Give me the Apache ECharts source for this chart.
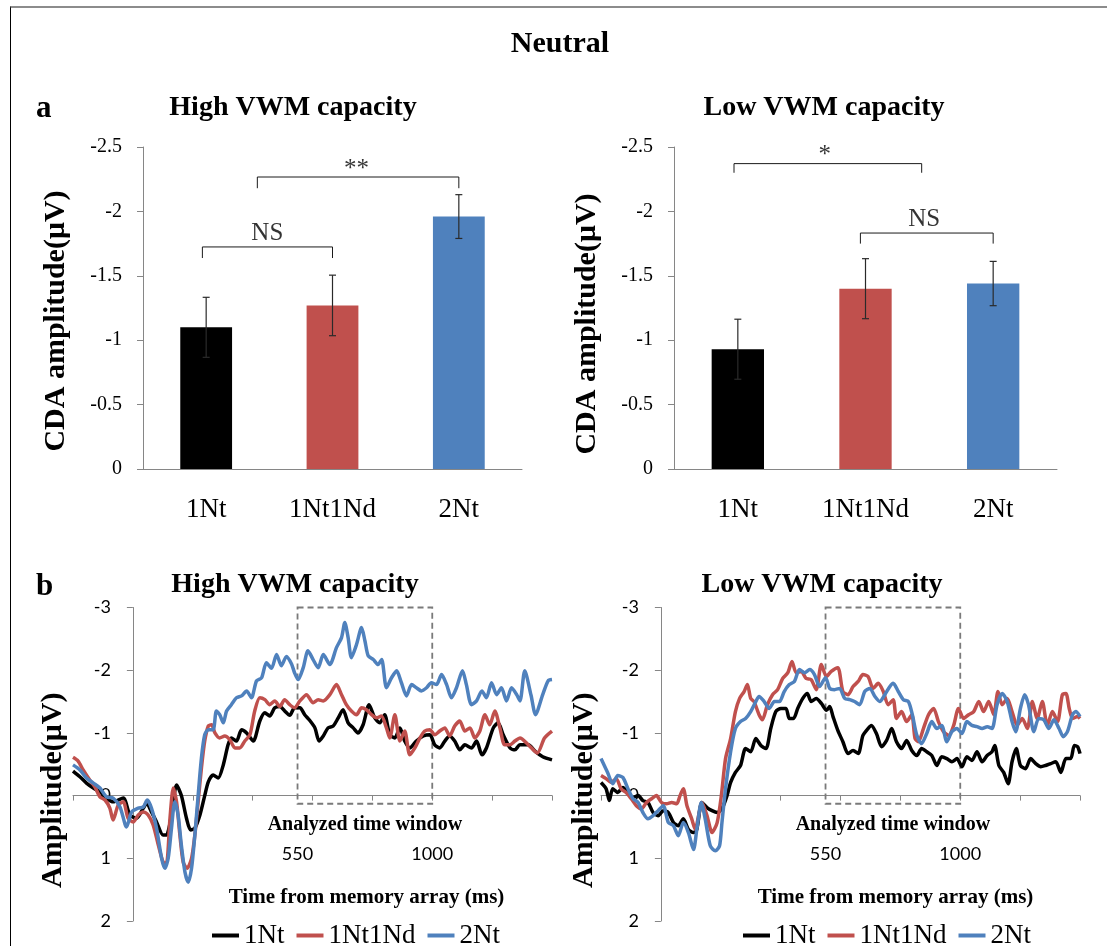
<!DOCTYPE html>
<html><head><meta charset="utf-8">
<script src="https://cdn.jsdelivr.net/npm/echarts@6/dist/echarts.min.js"></script>
<style>
html,body{margin:0;padding:0;background:#fff;}
#frame{position:absolute;left:10px;top:6px;width:1097px;height:940px;border-left:1.5px solid #000;border-top:2px solid #8c8c8c;box-sizing:border-box;}
#chart{position:absolute;left:0;top:0;width:1107px;height:946px;}
</style></head><body>
<div id="frame"></div>
<div id="chart"></div>
<script>
// ---------- data ----------
const categories = ['1Nt', '1Nt1Nd', '2Nt'];
const barColors = ['#000000', '#C0504D', '#4F81BD'];
const highMeans = [-1.10, -1.27, -1.96];
const highErrors = [0.233, 0.235, 0.17];
const lowMeans = [-0.93, -1.40, -1.44];
const lowErrors = [0.233, 0.233, 0.172];
// brackets: [xStart, xEnd, yBar, yEnd]
const highBrackets = [[-0.03, 1.0, -1.724, -1.638], [0.405, 2.0, -2.267, -2.18]];
const highSigText = [['NS', 0.484, -1.724], ['**', 1.19, -2.267]];
const lowBrackets = [[-0.03, 1.44, -2.371, -2.30], [0.96, 2.0, -1.832, -1.75]];
const lowSigText = [['*', 0.68, -2.371], ['NS', 1.46, -1.832]];
const timeRange = [-200, 1400];
const ampRange = [-3, 2];
const timeWindow = [550, 1000];
const timeLabels = [550, 1000];

const high1Nt = [[-200,-0.39],[-177,-0.30],[-155,-0.20],[-132,-0.12],[-110,-0.06],[-88,0.04],[-66,0.10],[-32,0.04],[-10,0.31],[12,0.36],[35,0.20],[46,0.12],[62,0.26],[79,0.42],[101,0.63],[112,0.63],[129,0.31],[146,-0.17],[162,0.0],[179,0.36],[193,0.55],[207,0.52],[224,0.31],[240,0.0],[252,-0.22],[268,-0.33],[285,-0.28],[302,-0.49],[318,-0.81],[329,-0.92],[346,-0.87],[363,-1.05],[380,-1.0],[402,-0.87],[424,-1.19],[441,-1.32],[457,-1.27],[474,-1.40],[491,-1.42],[507,-1.35],[524,-1.28],[540,-1.40],[558,-1.40],[574,-1.29],[589,-1.21],[608,-1.08],[622,-0.87],[636,-0.95],[652,-1.08],[669,-1.11],[686,-1.24],[702,-1.37],[719,-1.16],[736,-1.08],[752,-1.0],[769,-1.13],[789,-1.45],[808,-1.24],[825,-1.16],[841,-1.29],[858,-0.97],[875,-0.92],[892,-1.08],[908,-0.87],[925,-0.76],[947,-0.87],[970,-0.95],[992,-0.97],[1008,-0.81],[1025,-0.76],[1042,-0.87],[1058,-0.95],[1075,-0.87],[1092,-0.73],[1109,-0.81],[1131,-0.76],[1148,-0.87],[1166,-0.65],[1181,-0.76],[1204,-1.08],[1220,-1.16],[1237,-0.97],[1260,-0.76],[1276,-0.73],[1293,-0.81],[1321,-0.81],[1345,-0.70],[1369,-0.62],[1400,-0.57]];
const high1Nt1Nd = [[-200,-0.61],[-183,-0.55],[-166,-0.41],[-144,-0.25],[-127,-0.14],[-110,0.02],[-93,0.07],[-77,0.20],[-66,0.39],[-49,0.15],[-32,0.10],[-16,0.36],[1,0.42],[18,0.31],[35,0.26],[51,0.31],[68,0.47],[85,0.79],[101,1.06],[112,1.08],[124,0.36],[135,-0.12],[146,0.10],[157,0.63],[168,1.06],[181,1.16],[196,1.0],[207,0.63],[218,0.10],[229,-0.44],[240,-0.87],[252,-1.11],[263,-1.13],[274,-1.0],[290,-0.92],[307,-0.95],[324,-0.89],[341,-0.76],[357,-0.76],[374,-0.87],[391,-0.97],[407,-1.35],[424,-1.56],[441,-1.53],[457,-1.45],[474,-1.51],[491,-1.42],[507,-1.53],[524,-1.45],[540,-1.40],[558,-1.51],[580,-1.61],[602,-1.48],[619,-1.53],[636,-1.51],[658,-1.61],[680,-1.77],[697,-1.61],[713,-1.45],[730,-1.35],[747,-1.29],[764,-1.40],[780,-1.37],[797,-1.29],[814,-1.24],[830,-1.27],[847,-1.08],[858,-0.92],[875,-1.29],[892,-0.87],[908,-1.03],[925,-0.65],[942,-0.76],[959,-0.92],[975,-1.03],[992,-1.05],[1008,-0.97],[1025,-1.03],[1042,-1.08],[1058,-0.95],[1075,-1.11],[1092,-1.19],[1109,-1.03],[1126,-1.08],[1142,-0.92],[1159,-1.03],[1176,-1.29],[1192,-1.13],[1209,-1.35],[1226,-1.08],[1242,-0.81],[1259,-0.81],[1276,-0.87],[1293,-0.92],[1321,-0.81],[1351,-0.68],[1375,-0.92],[1400,-1.03]];
const high2Nt = [[-200,-0.49],[-177,-0.41],[-155,-0.28],[-132,-0.20],[-110,-0.12],[-88,0.02],[-66,0.04],[-43,0.18],[-21,0.50],[-4,0.26],[18,0.20],[35,0.18],[48,0.07],[62,0.20],[79,0.52],[96,1.0],[107,1.16],[118,1.0],[129,0.52],[140,0.10],[151,0.31],[162,0.79],[174,1.22],[185,1.38],[196,1.16],[207,0.63],[218,0.0],[229,-0.60],[240,-0.97],[252,-1.05],[268,-1.05],[279,-1.35],[290,-1.29],[302,-1.16],[313,-1.35],[329,-1.45],[346,-1.56],[363,-1.59],[380,-1.67],[396,-1.56],[413,-1.83],[430,-1.88],[446,-2.12],[463,-2.03],[480,-2.25],[496,-2.07],[513,-2.22],[530,-2.10],[540,-1.96],[552,-1.85],[569,-2.04],[585,-2.31],[602,-2.17],[619,-2.04],[636,-2.25],[658,-2.09],[680,-2.36],[697,-2.52],[708,-2.76],[719,-2.52],[730,-2.20],[747,-2.41],[764,-2.68],[775,-2.47],[786,-2.23],[803,-2.17],[819,-2.09],[831,-2.17],[847,-1.72],[864,-1.88],[881,-1.99],[897,-1.80],[914,-1.59],[931,-1.77],[947,-1.72],[964,-1.67],[981,-1.72],[997,-1.80],[1014,-1.77],[1031,-1.93],[1048,-1.77],[1064,-1.56],[1081,-1.72],[1101,-1.99],[1114,-1.77],[1131,-1.45],[1148,-1.51],[1166,-1.67],[1181,-1.56],[1198,-1.80],[1215,-1.61],[1231,-1.72],[1248,-1.51],[1265,-1.72],[1282,-1.61],[1293,-1.51],[1309,-1.99],[1330,-1.60],[1345,-1.29],[1369,-1.61],[1387,-1.83],[1400,-1.85]];

const low1Nt = [[-200,-0.21],[-183,-0.11],[-172,0.08],[-161,-0.11],[-144,-0.05],[-127,-0.13],[-110,-0.05],[-93,0.03],[-76,0.0],[-60,0.08],[-43,0.11],[-26,0.27],[-9,0.32],[8,0.24],[25,0.27],[42,0.43],[58,0.48],[75,0.37],[92,0.54],[109,0.59],[120,0.54],[137,0.11],[154,0.19],[171,0.24],[188,0.27],[204,0.21],[221,0.0],[233,-0.21],[249,-0.37],[266,-0.48],[283,-0.75],[300,-0.70],[317,-0.91],[334,-0.80],[351,-0.75],[367,-1.07],[384,-1.34],[401,-1.39],[418,-1.39],[429,-1.23],[443,-1.23],[457,-1.39],[474,-1.55],[489,-1.63],[502,-1.50],[519,-1.55],[536,-1.47],[553,-1.36],[564,-1.42],[575,-1.26],[591,-1.04],[608,-0.86],[625,-0.67],[642,-0.72],[659,-0.67],[675,-0.96],[692,-1.07],[703,-1.12],[720,-0.99],[737,-0.78],[754,-0.88],[771,-1.07],[787,-0.86],[804,-0.75],[821,-0.88],[838,-0.72],[855,-0.64],[871,-0.75],[888,-0.70],[905,-0.64],[922,-0.48],[938,-0.62],[955,-0.59],[972,-0.54],[989,-0.59],[1006,-0.46],[1022,-0.62],[1039,-0.56],[1056,-0.70],[1073,-0.54],[1090,-0.64],[1106,-0.70],[1115,-0.80],[1129,-0.48],[1145,-0.37],[1160,-0.19],[1173,-0.54],[1187,-0.75],[1201,-0.48],[1218,-0.43],[1235,-0.59],[1252,-0.51],[1269,-0.46],[1285,-0.48],[1302,-0.51],[1319,-0.54],[1336,-0.37],[1353,-0.59],[1369,-0.59],[1381,-0.80],[1392,-0.78],[1400,-0.67]];
const low1Nt1Nd = [[-200,-0.32],[-183,-0.27],[-166,-0.21],[-149,-0.27],[-133,-0.11],[-116,-0.05],[-99,0.05],[-82,0.16],[-65,0.21],[-48,0.11],[-31,0.05],[-15,0.0],[2,0.11],[19,0.13],[36,0.11],[53,0.13],[64,0.0],[75,-0.11],[87,0.16],[103,0.37],[115,0.54],[126,0.32],[137,0.11],[154,0.32],[171,0.59],[188,0.43],[202,0.0],[216,-0.59],[233,-0.91],[249,-1.34],[263,-1.55],[278,-1.66],[289,-1.77],[300,-1.55],[311,-1.50],[328,-1.29],[339,-1.21],[356,-1.45],[373,-1.61],[390,-1.69],[407,-1.87],[424,-1.96],[438,-2.14],[452,-1.96],[469,-1.98],[485,-1.87],[502,-1.85],[519,-1.69],[536,-2.09],[553,-1.90],[569,-1.98],[591,-2.04],[608,-1.66],[625,-1.61],[642,-1.74],[659,-1.82],[675,-1.93],[692,-1.90],[709,-1.71],[726,-1.79],[743,-1.66],[759,-1.45],[776,-1.53],[787,-1.23],[804,-1.34],[821,-1.18],[838,-1.29],[849,-0.91],[860,-0.86],[877,-1.07],[894,-1.29],[911,-1.39],[927,-1.18],[944,-1.02],[961,-0.96],[978,-1.12],[994,-1.39],[1011,-1.23],[1028,-1.29],[1045,-1.34],[1062,-1.50],[1078,-1.34],[1095,-1.50],[1112,-1.29],[1126,-1.66],[1140,-1.45],[1157,-1.55],[1173,-1.34],[1190,-1.12],[1207,-1.23],[1224,-1.07],[1241,-1.50],[1257,-1.23],[1274,-1.50],[1291,-1.12],[1308,-1.34],[1325,-1.18],[1341,-1.61],[1353,-1.63],[1364,-1.39],[1375,-1.23],[1392,-1.26],[1400,-1.23]];
const low2Nt = [[-200,-0.59],[-189,-0.48],[-178,-0.37],[-161,-0.19],[-144,-0.32],[-127,-0.29],[-110,-0.11],[-93,0.05],[-76,0.11],[-60,0.27],[-43,0.37],[-26,0.32],[-9,0.24],[8,0.16],[25,0.43],[42,0.48],[58,0.64],[75,0.43],[92,0.59],[109,0.86],[120,0.54],[135,0.11],[148,0.37],[165,0.80],[182,0.88],[196,0.80],[204,0.43],[216,-0.11],[233,-0.70],[249,-1.07],[266,-1.18],[283,-1.23],[300,-1.34],[317,-1.50],[328,-1.58],[345,-1.50],[362,-1.39],[379,-1.50],[396,-1.50],[412,-1.66],[429,-1.77],[446,-1.82],[463,-2.01],[480,-1.96],[497,-2.01],[513,-1.93],[530,-1.74],[550,-1.88],[564,-1.71],[580,-1.69],[597,-1.71],[614,-1.55],[631,-1.53],[647,-1.50],[664,-1.45],[681,-1.66],[698,-1.71],[715,-1.58],[731,-1.50],[748,-1.61],[765,-1.74],[776,-1.79],[793,-1.66],[810,-1.53],[827,-1.50],[840,-1.29],[855,-0.96],[871,-0.83],[888,-0.99],[905,-1.18],[922,-1.07],[938,-1.12],[955,-0.86],[972,-1.02],[989,-1.07],[1006,-0.99],[1022,-1.18],[1039,-1.12],[1056,-1.10],[1073,-1.07],[1090,-1.10],[1106,-1.07],[1123,-1.45],[1140,-1.63],[1157,-1.50],[1173,-1.18],[1185,-1.02],[1201,-1.39],[1215,-1.61],[1228,-1.45],[1246,-1.02],[1262,-1.23],[1279,-1.21],[1296,-1.07],[1313,-1.21],[1330,-1.07],[1344,-0.94],[1358,-1.02],[1375,-1.29],[1386,-1.34],[1400,-1.26]];

// ---------- layout / style ----------
const SERIF = 'Liberation Serif';
const SANS = 'Lato';
const AXIS_GRAY = '#868686';
const LINE_GRID_W = 479, LINE_GRID_H = 313.5;
// shift axes so they cross at time 0 / amplitude 0
const yAxisShift = -LINE_GRID_W * (0 - timeRange[0]) / (timeRange[1] - timeRange[0]);
const xAxisShift = -LINE_GRID_H * (ampRange[1] - 0) / (ampRange[1] - ampRange[0]);

function barYAxis(gridIndex, namePad) {
  return {
    gridIndex, type: 'value', inverse: true, min: -2.5, max: 0, interval: 0.5,
    name: 'CDA amplitude(\u03bcV)', nameLocation: 'middle', nameGap: 72,
    nameTextStyle: { fontFamily: SERIF, fontWeight: 'bold', fontSize: 30, color: '#000', padding: [0, namePad, 0, 0] },
    axisLine: { show: true, onZero: false, lineStyle: { color: AXIS_GRAY, width: 1 } },
    axisTick: { show: true, length: 6, lineStyle: { color: AXIS_GRAY } },
    axisLabel: { fontFamily: SERIF, fontSize: 20, color: '#000', margin: 21 },
    splitLine: { show: false }
  };
}
function barXAxis(gridIndex) {
  return {
    gridIndex, type: 'category', data: categories,
    axisLine: { show: true, onZero: false, lineStyle: { color: AXIS_GRAY, width: 1 } },
    axisTick: { show: false },
    axisLabel: { fontFamily: SERIF, fontSize: 27, color: '#000', margin: 27 },
    splitLine: { show: false }
  };
}
function hiddenX(gridIndex) {
  return { gridIndex, type: 'value', min: -0.5, max: 2.5, show: false };
}
function lineXAxis(gridIndex, namePadLeft) {
  return {
    gridIndex, type: 'value', min: timeRange[0], max: timeRange[1], interval: 200,
    offset: xAxisShift,
    name: 'Time from memory array (ms)', nameLocation: 'middle', nameGap: 91,
    nameTextStyle: { fontFamily: SERIF, fontWeight: 'bold', fontSize: 21, color: '#000', padding: [0, 0, 0, namePadLeft] },
    axisLine: { show: true, onZero: false, lineStyle: { color: AXIS_GRAY, width: 1 } },
    axisTick: { show: true, length: 5, lineStyle: { color: AXIS_GRAY } },
    axisLabel: { customValues: timeLabels, formatter: v => String(v), fontFamily: SANS, fontSize: 18, color: '#000', margin: 50 },
    splitLine: { show: false }
  };
}
function lineYAxis(gridIndex, namePad, gap) {
  return {
    gridIndex, type: 'value', inverse: true, min: ampRange[0], max: ampRange[1], interval: 1,
    offset: yAxisShift,
    name: 'Amplitude(\u03bcV)', nameLocation: 'middle', nameGap: gap,
    nameTextStyle: { fontFamily: SERIF, fontWeight: 'bold', fontSize: 30, color: '#000', padding: [0, namePad, 0, 0] },
    axisLine: { show: true, onZero: false, lineStyle: { color: AXIS_GRAY, width: 1 } },
    axisTick: { show: true, length: 6, lineStyle: { color: AXIS_GRAY } },
    axisLabel: { fontFamily: SANS, fontSize: 18, color: '#000', margin: 22 },
    splitLine: { show: false }
  };
}

function barSeries(means, xi, yi) {
  return {
    type: 'bar', name: 'bars' + xi, xAxisIndex: xi, yAxisIndex: yi, barWidth: '41%',
    data: means.map((v, i) => ({ value: v, itemStyle: { color: barColors[i] } })),
    silent: true
  };
}
function errorSeries(means, errs, xi, yi) {
  return {
    type: 'custom', name: 'err' + xi, xAxisIndex: xi, yAxisIndex: yi, z: 5, silent: true,
    data: means.map((m, i) => [i, m - errs[i], m + errs[i]]),
    renderItem(params, api) {
      const x = api.value(0);
      const a = api.coord([x, api.value(1)]);
      const b = api.coord([x, api.value(2)]);
      const w = 3.5, st = { stroke: '#2a2a2a', lineWidth: 1.2 };
      return { type: 'group', children: [
        { type: 'line', shape: { x1: a[0], y1: a[1], x2: b[0], y2: b[1] }, style: st },
        { type: 'line', shape: { x1: a[0] - w, y1: a[1], x2: a[0] + w, y2: a[1] }, style: st },
        { type: 'line', shape: { x1: b[0] - w, y1: b[1], x2: b[0] + w, y2: b[1] }, style: st }
      ] };
    }
  };
}
function bracketSeries(brackets, xi, yi) {
  return brackets.map((br, k) => ({
    type: 'line', name: 'bracket' + xi + '_' + k, xAxisIndex: xi, yAxisIndex: yi, silent: true,
    showSymbol: false, symbol: 'none',
    lineStyle: { color: '#1a1a1a', width: 1 },
    data: [[br[0], br[3]], [br[0], br[2]], [br[1], br[2]], [br[1], br[3]]]
  }));
}
function sigTextSeries(texts, xi, yi) {
  return {
    type: 'scatter', name: 'sig' + xi, xAxisIndex: xi, yAxisIndex: yi, silent: true,
    symbolSize: 1, itemStyle: { color: 'rgba(0,0,0,0)' },
    data: texts.map(t => ({
      name: t[0], value: [t[1], t[2]],
      label: { show: true, position: 'top', formatter: '{b}', distance: t[0].indexOf('*') >= 0 ? -5 : 1,
        fontFamily: SERIF, fontSize: 25, color: '#000' }
    }))
  };
}
const lineColors = { '1Nt': '#000000', '1Nt1Nd': '#C0504D', '2Nt': '#4F81BD' };
function waveSeries(name, data, xi, yi, withWindow) {
  const s = {
    type: 'line', name, xAxisIndex: xi, yAxisIndex: yi, data, showSymbol: false, symbol: 'none',
    smooth: 0.25, color: lineColors[name],
    lineStyle: { color: lineColors[name], width: 3.5 }, silent: true
  };
  if (withWindow) {
    s.markArea = {
      silent: true,
      itemStyle: { color: 'rgba(0,0,0,0)', borderColor: '#7a7a7a', borderWidth: 1.8, borderType: [6, 4] },
      label: { show: true, position: 'bottom', distance: 10, color: '#000', fontFamily: SERIF, fontWeight: 'bold', fontSize: 20 },
      data: [[{ name: 'Analyzed time window', xAxis: timeWindow[0], yAxis: ampRange[0] }, { xAxis: timeWindow[1], yAxis: 0.13 }]]
    };
  }
  return s;
}

const titleStyle = (size) => ({ fontFamily: SERIF, fontWeight: 'bold', fontSize: size, color: '#000' });

const option = {
  animation: false,
  backgroundColor: 'transparent',
  title: [
    { text: 'Neutral', left: 560, top: 29, textAlign: 'center', textStyle: titleStyle(30), padding: 0 },
    { text: 'a', left: 36, top: 93, textStyle: titleStyle(31), padding: 0 },
    { text: 'High VWM capacity', left: 293, top: 94, textAlign: 'center', textStyle: titleStyle(28), padding: 0 },
    { text: 'Low VWM capacity', left: 824, top: 94, textAlign: 'center', textStyle: titleStyle(28), padding: 0 },
    { text: 'b', left: 36, top: 571, textStyle: titleStyle(31), padding: 0 },
    { text: 'High VWM capacity', left: 295, top: 571, textAlign: 'center', textStyle: titleStyle(28), padding: 0 },
    { text: 'Low VWM capacity', left: 822, top: 571, textAlign: 'center', textStyle: titleStyle(28), padding: 0 }
  ],
  legend: [
    { left: 212, top: 922, data: categories, icon: 'rect', itemWidth: 27, itemHeight: 4, itemGap: 12, padding: 0,
      selectedMode: false, textStyle: { fontFamily: SERIF, fontSize: 27, color: '#000' } },
    { left: 743, top: 922, data: categories, icon: 'rect', itemWidth: 27, itemHeight: 4, itemGap: 12, padding: 0,
      selectedMode: false, textStyle: { fontFamily: SERIF, fontSize: 27, color: '#000' } }
  ],
  grid: [
    { left: 143, top: 147, width: 379, height: 322, outerBoundsMode: 'none' },
    { left: 674, top: 147, width: 383, height: 322, outerBoundsMode: 'none' },
    { left: 73, top: 607.5, width: LINE_GRID_W, height: LINE_GRID_H, outerBoundsMode: 'none' },
    { left: 601, top: 607.5, width: LINE_GRID_W, height: LINE_GRID_H, outerBoundsMode: 'none' }
  ],
  xAxis: [
    barXAxis(0), hiddenX(0), barXAxis(1), hiddenX(1),
    lineXAxis(2, 108), lineXAxis(3, 110)
  ],
  yAxis: [
    barYAxis(0, 26), barYAxis(1, 32),
    lineYAxis(2, 52, 65), lineYAxis(3, 52, 62)
  ],
  series: [
    barSeries(highMeans, 0, 0), errorSeries(highMeans, highErrors, 0, 0),
    ...bracketSeries(highBrackets, 1, 0), sigTextSeries(highSigText, 1, 0),
    barSeries(lowMeans, 2, 1), errorSeries(lowMeans, lowErrors, 2, 1),
    ...bracketSeries(lowBrackets, 3, 1), sigTextSeries(lowSigText, 3, 1),
    waveSeries('1Nt', high1Nt, 4, 2, true), waveSeries('1Nt1Nd', high1Nt1Nd, 4, 2), waveSeries('2Nt', high2Nt, 4, 2),
    waveSeries('1Nt', low1Nt, 5, 3, true), waveSeries('1Nt1Nd', low1Nt1Nd, 5, 3), waveSeries('2Nt', low2Nt, 5, 3)
  ]
};
const chart = echarts.init(document.getElementById('chart'), null, { renderer: 'canvas' });
chart.setOption(option);
</script>
</body></html>
